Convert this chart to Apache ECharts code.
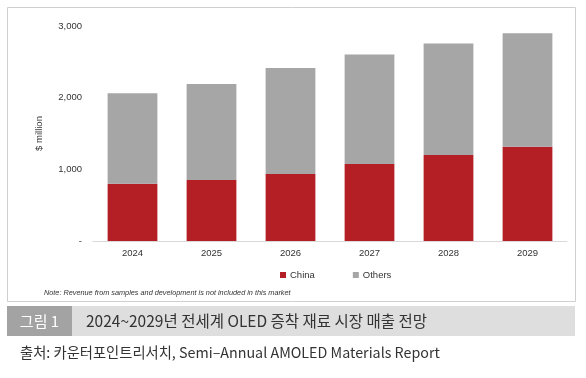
<!DOCTYPE html>
<html><head><meta charset="utf-8">
<script src="https://cdn.jsdelivr.net/npm/echarts@6/dist/echarts.min.js"></script>
<style>html,body{margin:0;padding:0;background:#fff}#c{width:586px;height:378px}</style>
</head><body><div id="c"></div>
<script>
const categories = ['2024','2025','2026','2027','2028','2029'];
const china = [800, 851, 934, 1074, 1200, 1315];
const others = [1260, 1339, 1479, 1530, 1557, 1585];
const yTicks = [0, 1000, 2000, 3000];
const seriesNames = ['China','Others'];
const noteText = 'Note: Revenue from samples and development is not included in this market';
const captionLabel = '그림 1';
const captionTitle = '2024~2029년 전세계 OLED 증착 재료 시장 매출 전망';
const sourceText = '출처: 카운터포인트리서치, Semi–Annual AMOLED Materials Report';

const chart = echarts.init(document.getElementById('c'));
const f = 'Liberation Sans, Arial, sans-serif';
const kf = '"Noto Sans CJK KR", sans-serif';
chart.setOption({
  animation: false,
  grid: {left: 93, right: 19, top: 26, bottom: 137},
  legend: {
    data: seriesNames, left: 275, top: 265, icon: 'rect', itemWidth: 6, itemHeight: 6, itemGap: 38,
    textStyle: {fontFamily: f, fontSize: 9.5, color: '#333', padding: [0,0,0,-1]}
  },
  xAxis: {
    type: 'category', data: categories,
    axisLine: {lineStyle: {color: '#d9d9d9'}}, axisTick: {show: false},
    axisLabel: {fontFamily: f, fontSize: 9.5, color: '#333', margin: 7}
  },
  yAxis: {
    type: 'value', min: 0, max: 3000, interval: 1000,
    name: '$ million', nameLocation: 'middle', nameGap: 49, nameRotate: 90,
    nameTextStyle: {fontFamily: f, fontSize: 9.5, color: '#333'},
    axisLine: {show: false}, axisTick: {show: false}, splitLine: {show: false},
    axisLabel: {fontFamily: f, fontSize: 9.5, color: '#333', margin: 11,
      formatter: v => v === 0 ? '-' : v.toLocaleString('en-US')}
  },
  series: [
    {name: seriesNames[0], type: 'bar', stack: 's', data: china, barWidth: '63%', itemStyle: {color: '#B41F25'}},
    {name: seriesNames[1], type: 'bar', stack: 's', data: others, barWidth: '63%', itemStyle: {color: '#A6A6A6'}}
  ],
  graphic: [
    {type: 'rect', shape: {x: 7.5, y: 7.5, width: 568, height: 294}, style: {fill: 'none', stroke: '#cfcfcf', lineWidth: 1}, silent: true, z: -1},
    {type: 'text', left: 44, top: 289, style: {text: noteText, font: 'italic 7.3px Liberation Sans, Arial, sans-serif', fill: '#333'}},
    {type: 'rect', shape: {x: 7, y: 306, width: 568, height: 30}, style: {fill: '#dedede'}, silent: true},
    {type: 'rect', shape: {x: 7, y: 306, width: 65, height: 30}, style: {fill: '#a3a3a3'}, silent: true},
    {type: 'text', x: 39.5, y: 321, style: {text: captionLabel, fill: '#fff', font: '15px ' + kf, align: 'center', verticalAlign: 'middle'}},
    {type: 'text', x: 86, y: 321, style: {text: captionTitle, fill: '#333', font: '15.5px ' + kf, verticalAlign: 'middle'}},
    {type: 'text', x: 20, y: 353, style: {text: sourceText, fill: '#333', font: '14.3px ' + kf, verticalAlign: 'middle'}}
  ]
});
</script></body></html>
